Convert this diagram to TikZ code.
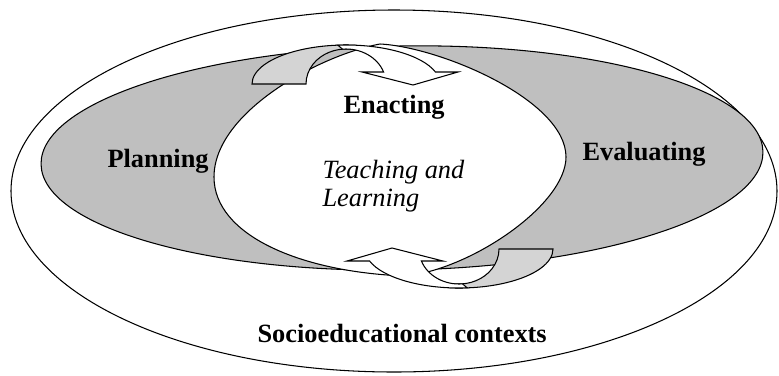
\documentclass[tikz,border=0pt]{standalone}
\usepackage{fontspec}
\setmainfont{Liberation Serif}
\tikzset{
  stage/.style={font=\fontsize{15}{16}\selectfont\bfseries, inner sep=0pt, anchor=base west},
  activity/.style={font=\fontsize{15}{16}\selectfont\itshape, inner sep=0pt, align=left},
}
\begin{document}
\begin{tikzpicture}[x=0.2mm, y=0.2mm, line width=0.6pt]
\useasboundingbox (0,0) rectangle (779,375);
% contexts and the planning/evaluating ring
\draw[fill=white] (394,184) ellipse [x radius=383, y radius=181];
\draw[fill=black!25, rotate around={1:(402,217)}] (402,217) ellipse [x radius=361, y radius=112];
% teaching and learning lens
\draw[fill=white] (380,331) .. controls (320,320) and (214,263) .. (214,198)
  .. controls (214,140) and (300,103) .. (405,99)
  .. controls (470,105) and (566,170) .. (566,218)
  .. controls (566,275) and (440,328) .. (380,331) -- cycle;
% the two curved arrows, the lower one turned round
\foreach \cx/\cy/\rot in {346/291/0, 459/126/180}{
  \begin{scope}[shift={(\cx,\cy)}, rotate=\rot]
    \draw[fill=black!17] (-94,0) arc[start angle=180, end angle=85, x radius=94, y radius=39]
      -- ({40*cos(85)},{35*sin(85)})
      arc[start angle=85, end angle=180, x radius=40, y radius=35] -- cycle;
    \draw[fill=white] ({94*cos(95)},{39*sin(95)})
      arc[start angle=95, end angle=17.9, x radius=94, y radius=39]
      -- (112,12) -- (67,-1) -- (16,12) -- (37.6,12)
      arc[start angle=20.05, end angle=95, x radius=40, y radius=35] -- cycle;
  \end{scope}
}
% labels
\node[stage] (planning) at (107,208) {Planning};
\node[stage] (enacting) at (343,262) {Enacting};
\node[stage] (evaluating) at (582,215) {Evaluating};
\node[stage] (contexts) at (257,33) {Socioeducational contexts};
\node[activity, anchor=north west] (teaching) at (322,215) {Teaching and\\Learning};
\end{tikzpicture}
\end{document}
